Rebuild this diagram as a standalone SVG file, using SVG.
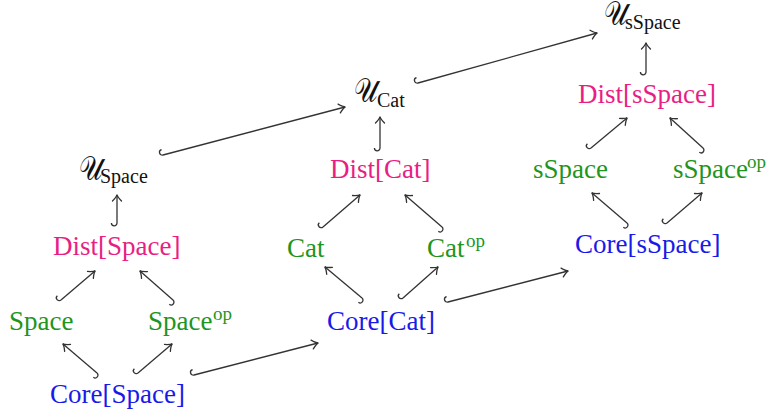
<svg xmlns="http://www.w3.org/2000/svg" width="774" height="412" viewBox="0 0 774 412">
<style>
.dist{fill:#e91e84}
.base{fill:#1e951e}
.core{fill:#1a1ae8}
.blk{fill:#111}
.conn path{fill:none;stroke:#333;stroke-width:1.3;marker-start:url(#hook);marker-end:url(#to)}
</style>
<defs>
<marker id="hook" markerUnits="userSpaceOnUse" markerWidth="10" markerHeight="10" refX="0" refY="0" orient="auto" style="overflow:visible">
<path d="M0,0 A2.8,2.8 0 0 1 0,-5.6" fill="none" stroke="#333" stroke-width="1.3"/>
</marker>
<marker id="to" markerUnits="userSpaceOnUse" markerWidth="10" markerHeight="10" refX="0" refY="0" orient="auto" style="overflow:visible">
<path d="M-6,-4.5 Q-2,-0.6 0.4,0 Q-2,0.6 -6,4.5" fill="none" stroke="#333" stroke-width="1.3" stroke-linecap="round"/>
</marker>
</defs>
<g id="connectors" class="conn">
<path d="M117,223 L117,195"/>
<path d="M61,300 L95,271"/>
<path d="M173,300 L140,271"/>
<path d="M97,373 L63,344"/>
<path d="M138,373 L172,344"/>
<path d="M194,375 L318,343"/>
<path d="M163,155 L345,107"/>
<path d="M380,148 L380,117"/>
<path d="M323,227 L360,195"/>
<path d="M442,227 L405,195"/>
<path d="M362,298 L325,267"/>
<path d="M403,298 L438,267"/>
<path d="M448,302 L568,271"/>
<path d="M418,83 L597,33"/>
<path d="M646,72 L646,43"/>
<path d="M591,148 L627,118"/>
<path d="M703,148 L670,118"/>
<path d="M627,223 L592,193"/>
<path d="M667,223 L702,193"/>
</g>
<g id="U_Space"><text transform="translate(79,180) scale(1,1.3)" x="0" y="0" class="blk" font-family="serif" font-size="26">𝒰</text><text x="100" y="183" class="blk" font-family="Liberation Serif" font-size="20">Space</text></g>
<g id="Dist_Space"><text x="53" y="255" class="dist" font-family="Liberation Serif" font-size="27">Dist[Space]</text></g>
<g id="Space"><text x="9" y="330" class="base" font-family="Liberation Serif" font-size="27">Space</text></g>
<g id="Space_op"><text x="148" y="330" class="base" font-family="Liberation Serif" font-size="27">Space</text><text x="213" y="320" class="base" font-family="Liberation Serif" font-size="19">op</text></g>
<g id="Core_Space"><text x="50" y="403" class="core" font-family="Liberation Serif" font-size="27">Core[Space]</text></g>
<g id="U_Cat"><text transform="translate(354,102) scale(1,1.3)" x="0" y="0" class="blk" font-family="serif" font-size="26">𝒰</text><text x="377" y="107" class="blk" font-family="Liberation Serif" font-size="20">Cat</text></g>
<g id="Dist_Cat"><text x="330" y="178" class="dist" font-family="Liberation Serif" font-size="27">Dist[Cat]</text></g>
<g id="Cat"><text x="287" y="257" class="base" font-family="Liberation Serif" font-size="27">Cat</text></g>
<g id="Cat_op"><text x="427" y="257" class="base" font-family="Liberation Serif" font-size="27">Cat</text><text x="466" y="247" class="base" font-family="Liberation Serif" font-size="19">op</text></g>
<g id="Core_Cat"><text x="327" y="330" class="core" font-family="Liberation Serif" font-size="27">Core[Cat]</text></g>
<g id="U_sSpace"><text transform="translate(604,25) scale(1,1.3)" x="0" y="0" class="blk" font-family="serif" font-size="26">𝒰</text><text x="625" y="29" class="blk" font-family="Liberation Serif" font-size="20">sSpace</text></g>
<g id="Dist_sSpace"><text x="578" y="103" class="dist" font-family="Liberation Serif" font-size="27">Dist[sSpace]</text></g>
<g id="sSpace"><text x="533" y="178" class="base" font-family="Liberation Serif" font-size="27">sSpace</text></g>
<g id="sSpace_op"><text x="673" y="178" class="base" font-family="Liberation Serif" font-size="27">sSpace</text><text x="747" y="168" class="base" font-family="Liberation Serif" font-size="19">op</text></g>
<g id="Core_sSpace"><text x="575" y="253" class="core" font-family="Liberation Serif" font-size="27">Core[sSpace]</text></g>
</svg>
